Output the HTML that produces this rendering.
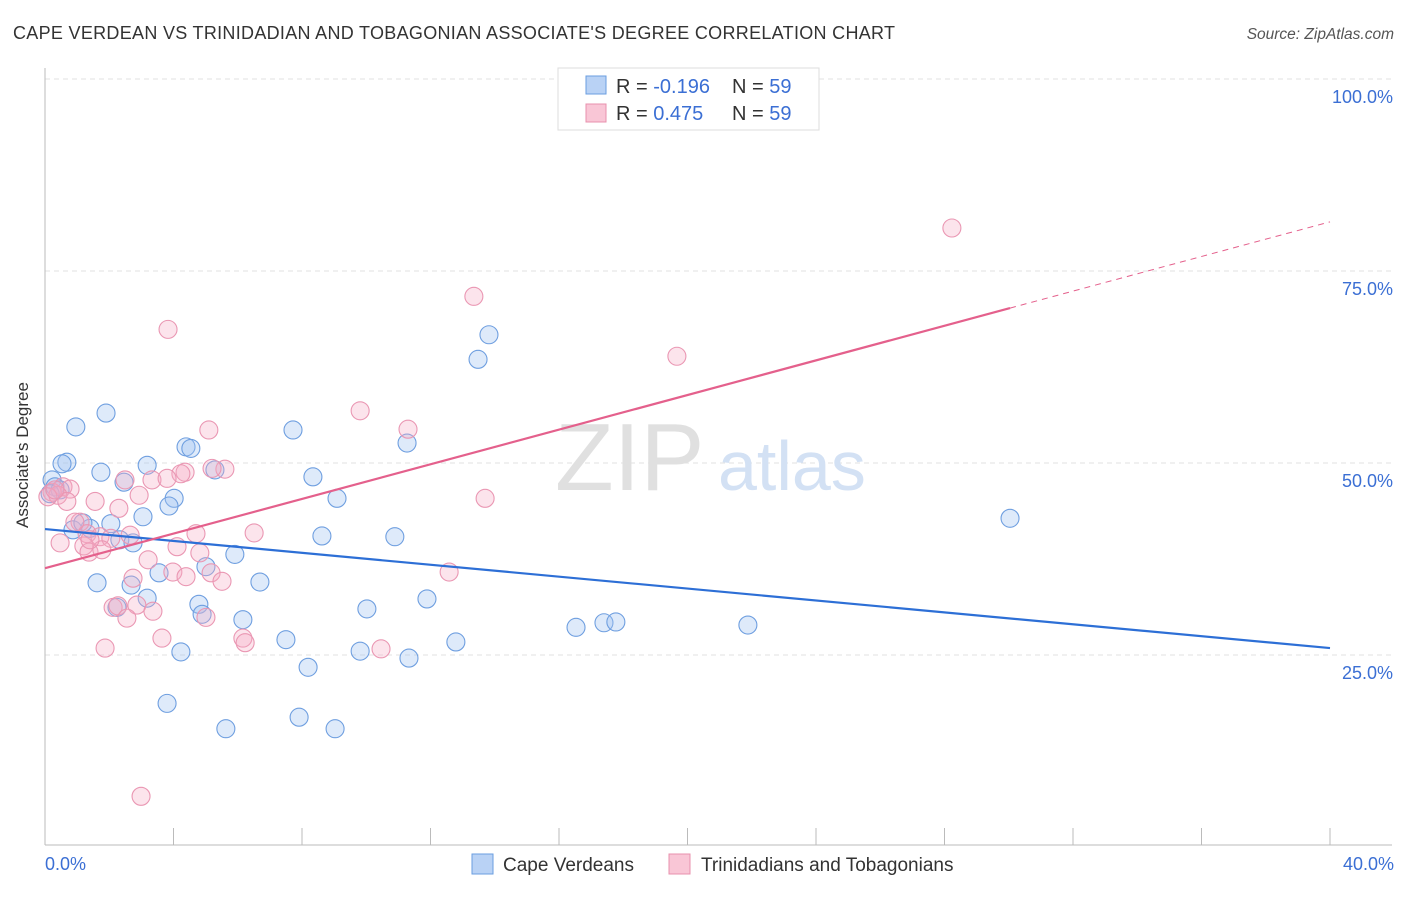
<!DOCTYPE html>
<html><head><meta charset="utf-8"><style>
body{margin:0;background:#fff;font-family:"Liberation Sans",sans-serif;}
svg text{font-family:"Liberation Sans",sans-serif;}
</style></head><body>
<svg id="c" width="1406" height="892" xmlns="http://www.w3.org/2000/svg">
<text x="13" y="39" font-size="18" fill="#333" letter-spacing="0.3">CAPE VERDEAN VS TRINIDADIAN AND TOBAGONIAN ASSOCIATE'S DEGREE CORRELATION CHART</text>
<text x="1394" y="39" font-size="15.5" fill="#555" font-style="italic" text-anchor="end">Source: ZipAtlas.com</text>
<g id="grid"></g>
<text x="555" y="490" font-size="96" fill="#e0e0e0" font-family="Liberation Serif">ZIP</text>
<text x="718" y="490" font-size="70" fill="#d3e1f4">atlas</text>
<line x1="45" y1="68" x2="45" y2="845" stroke="#bbb"/>
<line x1="45" y1="845" x2="1392" y2="845" stroke="#bbb"/>
<g id="ticks"></g>
<g id="pts"></g>
<g id="lines"></g>
<text x="28" y="455" font-size="17" fill="#333" text-anchor="middle" transform="rotate(-90 28 455)">Associate's Degree</text>
<text x="45" y="870" font-size="18" fill="#3b6fd4">0.0%</text>
<text x="1394" y="870" font-size="18" fill="#3b6fd4" text-anchor="end">40.0%</text>
<g>
<rect x="558" y="68" width="261" height="62" fill="#fff" stroke="#ddd"/>
<rect x="586" y="76" width="20" height="18" fill="#b9d2f5" stroke="#6a9ee0"/>
<rect x="586" y="104" width="20" height="18" fill="#f9c6d6" stroke="#e890ad"/>
<text x="616" y="93" font-size="20" fill="#333">R = <tspan fill="#3b6fd4">-0.196</tspan></text>
<text x="732" y="93" font-size="20" fill="#333">N = <tspan fill="#3b6fd4">59</tspan></text>
<text x="616" y="120" font-size="20" fill="#333">R = <tspan fill="#3b6fd4"> 0.475</tspan></text>
<text x="732" y="120" font-size="20" fill="#333">N = <tspan fill="#3b6fd4">59</tspan></text>
</g>
<g>
<rect x="472" y="854" width="21" height="20" fill="#b9d2f5" stroke="#6a9ee0"/>
<text x="503" y="871" font-size="19" fill="#333">Cape Verdeans</text>
<rect x="669" y="854" width="21" height="20" fill="#f9c6d6" stroke="#e890ad"/>
<text x="701" y="871" font-size="19" fill="#333">Trinidadians and Tobagonians</text>
</g>
</svg>
<script>
const yTicks=[25,50,75,100];
const yTickLabels=["25.0%","50.0%","75.0%","100.0%"];
const xTicks=[0,4,8,12,16,20,24,28,32,36,40];
const blueX=[0.22,0.31,0.47,0.68,0.53,0.96,1.90,1.74,2.46,3.18,4.02,3.86,4.39,4.54,5.29,3.05,2.05,0.87,1.40,2.33,2.74,1.62,2.68,3.55,3.18,4.79,4.89,5.01,5.91,6.69,6.16,4.23,3.80,5.63,7.72,8.34,9.09,8.62,10.89,11.27,13.48,13.82,10.02,11.89,7.50,8.19,7.91,9.03,9.81,11.33,12.79,16.53,17.40,17.77,21.88,30.04,2.24,0.16,1.18];
const blueY=[47.8,46.9,46.5,50.1,49.9,54.7,56.5,48.8,47.5,49.7,45.4,44.4,52.1,51.9,49.1,43.0,42.1,41.3,41.5,40.0,39.6,34.4,34.1,35.7,32.4,31.6,30.3,36.5,38.1,34.5,29.6,25.4,18.7,15.4,54.3,48.2,45.4,40.5,40.4,52.6,63.5,66.7,31.0,32.3,27.0,23.4,16.9,15.4,25.5,24.6,26.7,28.6,29.2,29.3,28.9,42.8,31.2,46.0,42.2];
const pinkX=[28.23,13.35,3.83,19.67,9.81,11.30,5.10,13.70,5.60,4.36,4.23,3.33,2.49,0.56,0.78,0.22,0.40,0.09,1.56,0.68,2.93,2.30,1.09,1.31,1.71,2.05,2.65,1.21,0.47,1.37,1.77,4.70,6.51,4.11,3.21,4.82,3.98,5.17,4.39,5.51,2.74,2.12,2.27,2.86,3.36,2.55,5.01,3.64,6.16,6.23,1.87,10.46,12.58,2.99,0.31,0.93,1.40,3.80,5.20];
const pinkY=[80.6,71.7,67.4,63.9,56.8,54.4,54.3,45.4,49.2,48.8,48.6,47.8,47.8,46.9,46.6,46.2,45.8,45.6,45.0,45.0,45.8,44.1,42.3,40.8,40.4,40.2,40.6,39.2,39.6,38.4,38.7,40.8,40.9,39.1,37.4,38.3,35.8,35.7,35.2,34.6,35.0,31.2,31.4,31.5,30.7,29.8,29.9,27.2,27.2,26.6,25.9,25.8,35.8,6.6,46.5,42.3,40.0,48.0,49.3];
const blueTrend=[41.4,25.9];
const pinkTrend=[36.3,81.4];
const pinkSolidEnd=30.04;

const NS="http://www.w3.org/2000/svg";
const X=v=>45+v/40*1285;
const Y=v=>847-v/100*768;
function mk(tag,attrs,parent){const e=document.createElementNS(NS,tag);for(const k in attrs)e.setAttribute(k,attrs[k]);parent.appendChild(e);return e;}
const grid=document.getElementById('grid');
yTicks.forEach((t,i)=>{
  const l=mk('line',{x1:45,x2:1392,y1:Y(t),y2:Y(t),stroke:'#e2e2e2','stroke-dasharray':'5,4'},grid);
  
  
  const tx=mk('text',{x:1393,y:Y(t)+24,'font-size':18,fill:'#3b6fd4','text-anchor':'end'},grid);
  tx.textContent=yTickLabels[i];
  
  
});
const tk=document.getElementById('ticks');
xTicks.forEach(t=>{
  const l=mk('line',{x1:X(t),x2:X(t),y1:828,y2:845,stroke:'#bbb'},tk);
  
  
});
const pts=document.getElementById('pts');
blueX.forEach((x,i)=>{
  const c=mk('circle',{cx:X(x),cy:Y(blueY[i]),r:9,fill:'rgba(160,195,240,0.35)',stroke:'#6f9fe0','stroke-width':1.1},pts);
  
  
});
pinkX.forEach((x,i)=>{
  const c=mk('circle',{cx:X(x),cy:Y(pinkY[i]),r:9,fill:'rgba(245,170,195,0.32)',stroke:'#ea97b3','stroke-width':1.1},pts);
  
  
});
const ln=document.getElementById('lines');
const b=mk('line',{x1:X(0),y1:Y(blueTrend[0]),x2:X(40),y2:Y(blueTrend[1]),stroke:'#2d6fd6','stroke-width':2.2},ln);


const py=x=>pinkTrend[0]+(pinkTrend[1]-pinkTrend[0])*x/40;
const p=mk('line',{x1:X(0),y1:Y(py(0)),x2:X(pinkSolidEnd),y2:Y(py(pinkSolidEnd)),stroke:'#e4608c','stroke-width':2.2},ln);


const pd=mk('line',{x1:X(pinkSolidEnd),y1:Y(py(pinkSolidEnd)),x2:X(40),y2:Y(py(40)),stroke:'#e4608c','stroke-width':1,'stroke-dasharray':'6,5'},ln);


</script>
</body></html>
